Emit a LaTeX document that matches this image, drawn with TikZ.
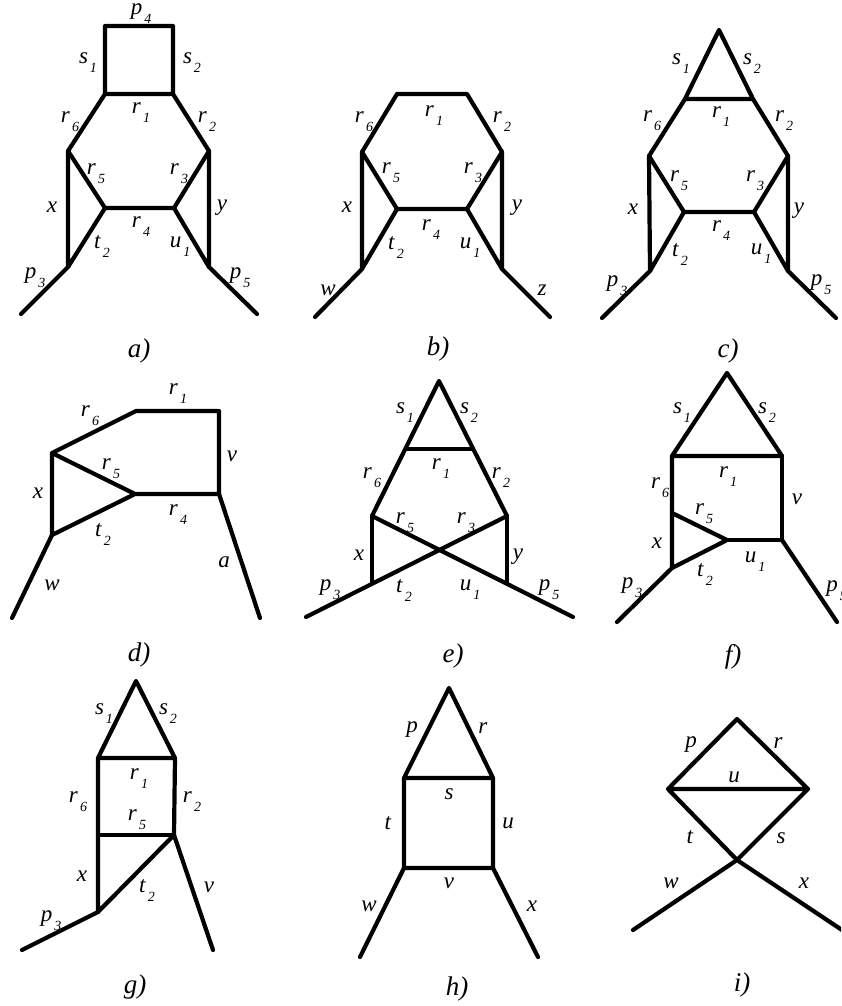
\documentclass[tikz,border=0pt]{standalone}
\usepackage{fontspec}
\setmainfont{Liberation Serif}
\newcommand{\lab}[2]{\textit{#1}\kern1pt\raisebox{-4.5pt}{\fontsize{7}{7}\selectfont\textit{#2}}}
\tikzset{
  el/.style={line width=2.1pt,line cap=round,line join=round},
  cim/.style={inner sep=0pt,font=\fontsize{11.5}{11.5}\selectfont},
  capt/.style={inner sep=0pt,font=\fontsize{13.5}{13.5}\selectfont\itshape},
}
\begin{document}
\begin{tikzpicture}[x=0.5pt,y=-0.5pt]
  \clip (0,0) rectangle (841,1006);
  % a)
  \coordinate (a1) at (105,26);  \coordinate (a2) at (173,26);
  \coordinate (a3) at (105,94);  \coordinate (a4) at (173,94);
  \coordinate (a5) at (68,151);  \coordinate (a6) at (209,151);
  \coordinate (a7) at (105,208); \coordinate (a8) at (174,208);
  \coordinate (a9) at (68,267);  \coordinate (a10) at (209,267);
  \coordinate (a11) at (21,314); \coordinate (a12) at (257,314);
  \draw[el] (a3) -- (a1) -- (a2) -- (a4) -- (a3) -- (a5) -- (a7) -- (a8) -- (a6) -- (a4);
  \draw[el] (a5) -- (a9) -- (a7);
  \draw[el] (a6) -- (a10) -- (a8);
  \draw[el] (a11) -- (a9);
  \draw[el] (a10) -- (a12);
  \node[cim] (ap4) at (141,14) {\lab{p}{4}};
  \node[cim] (as1) at (88,63) {\lab{s}{1}};
  \node[cim] (as2) at (192,63) {\lab{s}{2}};
  \node[cim] (ar1) at (141,113) {\lab{r}{1}};
  \node[cim] (ar6) at (70,122) {\lab{r}{6}};
  \node[cim] (ar2) at (207,122) {\lab{r}{2}};
  \node[cim] (ar5) at (96,174) {\lab{r}{5}};
  \node[cim] (ar3) at (179,174) {\lab{r}{3}};
  \node[cim] (ax) at (52,207) {\textit{x}};
  \node[cim] (ay) at (222,208) {\textit{y}};
  \node[cim] (ar4) at (141,227) {\lab{r}{4}};
  \node[cim] (at2) at (102,247) {\lab{t}{2}};
  \node[cim] (au1) at (180,247) {\lab{u}{1}};
  \node[cim] (ap3) at (35,278) {\lab{p}{3}};
  \node[cim] (ap5) at (240,278) {\lab{p}{5}};
  \node[capt] (acap) at (139,351) {a)};
  % b)
  \coordinate (b3) at (397,94);  \coordinate (b4) at (467,94);
  \coordinate (b5) at (362,152); \coordinate (b6) at (502,152);
  \coordinate (b7) at (397,209); \coordinate (b8) at (467,209);
  \coordinate (b9) at (362,269); \coordinate (b10) at (502,269);
  \coordinate (b11) at (315,317); \coordinate (b12) at (550,317);
  \draw[el] (b3) -- (b4) -- (b6) -- (b8) -- (b7) -- (b5) -- (b3);
  \draw[el] (b5) -- (b9) -- (b7);
  \draw[el] (b6) -- (b10) -- (b8);
  \draw[el] (b11) -- (b9);
  \draw[el] (b10) -- (b12);
  \node[cim] (br6) at (364,122) {\lab{r}{6}};
  \node[cim] (br1) at (434,116) {\lab{r}{1}};
  \node[cim] (br2) at (502,122) {\lab{r}{2}};
  \node[cim] (br5) at (391,173) {\lab{r}{5}};
  \node[cim] (br3) at (473,173) {\lab{r}{3}};
  \node[cim] (bx) at (347,207) {\textit{x}};
  \node[cim] (by) at (517,208) {\textit{y}};
  \node[cim] (br4) at (431,230) {\lab{r}{4}};
  \node[cim] (bt2) at (396,248) {\lab{t}{2}};
  \node[cim] (bu1) at (470,248) {\lab{u}{1}};
  \node[cim] (bw) at (328,290) {\textit{w}};
  \node[cim] (bz) at (542,290) {\textit{z}};
  \node[capt] (bcap) at (438,349) {b)};
  % c)
  \coordinate (c0) at (719,30);
  \coordinate (c3) at (685,99);  \coordinate (c4) at (753,99);
  \coordinate (c5) at (649,156); \coordinate (c6) at (788,156);
  \coordinate (c7) at (684,212); \coordinate (c8) at (754,212);
  \coordinate (c9) at (650,271); \coordinate (c10) at (788,271);
  \coordinate (c11) at (602,318); \coordinate (c12) at (836,318);
  \draw[el] (c3) -- (c0) -- (c4) -- (c3) -- (c5) -- (c7) -- (c8) -- (c6) -- (c4);
  \draw[el] (c5) -- (c9) -- (c7);
  \draw[el] (c6) -- (c10) -- (c8);
  \draw[el] (c11) -- (c9);
  \draw[el] (c10) -- (c12);
  \node[cim] (cs1) at (681,64) {\lab{s}{1}};
  \node[cim] (cs2) at (752,64) {\lab{s}{2}};
  \node[cim] (cr1) at (721,117) {\lab{r}{1}};
  \node[cim] (cr6) at (652,121) {\lab{r}{6}};
  \node[cim] (cr2) at (784,121) {\lab{r}{2}};
  \node[cim] (cr5) at (679,181) {\lab{r}{5}};
  \node[cim] (cr3) at (755,181) {\lab{r}{3}};
  \node[cim] (cx) at (633,209) {\textit{x}};
  \node[cim] (cy) at (799,211) {\textit{y}};
  \node[cim] (cr4) at (721,231) {\lab{r}{4}};
  \node[cim] (ct2) at (680,255) {\lab{t}{2}};
  \node[cim] (cu1) at (761,254) {\lab{u}{1}};
  \node[cim] (cp3) at (617,286) {\lab{p}{3}};
  \node[cim] (cp5) at (821,285) {\lab{p}{5}};
  \node[capt] (ccap) at (728,351) {c)};
  % d)
  \coordinate (d1) at (136,411); \coordinate (d2) at (219,411);
  \coordinate (d3) at (52,453);  \coordinate (d4) at (135,494);
  \coordinate (d5) at (219,494); \coordinate (d6) at (52,535);
  \coordinate (d7) at (12,618);  \coordinate (d8) at (260,618);
  \draw[el] (d3) -- (d1) -- (d2) -- (d5) -- (d4) -- (d3) -- (d6) -- (d4);
  \draw[el] (d7) -- (d6);
  \draw[el] (d5) -- (d8);
  \node[cim] (dr6) at (90,416) {\lab{r}{6}};
  \node[cim] (dr1) at (178,394) {\lab{r}{1}};
  \node[cim] (dv) at (232,456) {\textit{v}};
  \node[cim] (dr5) at (111,469) {\lab{r}{5}};
  \node[cim] (dx) at (38,493) {\textit{x}};
  \node[cim] (dr4) at (178,515) {\lab{r}{4}};
  \node[cim] (dt2) at (103,535) {\lab{t}{2}};
  \node[cim] (da) at (224,562) {\textit{a}};
  \node[cim] (dw) at (52,585) {\textit{w}};
  \node[capt] (dcap) at (139,655) {d)};
  % e)
  \coordinate (e0) at (439,381);
  \coordinate (e3) at (407,449); \coordinate (e4) at (472,449);
  \coordinate (e5) at (372,516); \coordinate (e6) at (507,516);
  \coordinate (e7) at (372,583); \coordinate (e8) at (507,583);
  \coordinate (e9) at (306,617); \coordinate (e10) at (573,617);
  \draw[el] (e5) -- (e0) -- (e6);
  \draw[el] (e3) -- (e4);
  \draw[el] (e5) -- (e7);
  \draw[el] (e6) -- (e8);
  \draw[el] (e5) -- (e10);
  \draw[el] (e6) -- (e9);
  \node[cim] (es1) at (405,413) {\lab{s}{1}};
  \node[cim] (es2) at (469,413) {\lab{s}{2}};
  \node[cim] (er1) at (441,469) {\lab{r}{1}};
  \node[cim] (er6) at (372,478) {\lab{r}{6}};
  \node[cim] (er2) at (501,478) {\lab{r}{2}};
  \node[cim] (er5) at (405,523) {\lab{r}{5}};
  \node[cim] (er3) at (466,523) {\lab{r}{3}};
  \node[cim] (ex) at (359,555) {\textit{x}};
  \node[cim] (ey) at (518,557) {\textit{y}};
  \node[cim] (et2) at (404,591) {\lab{t}{2}};
  \node[cim] (eu1) at (470,590) {\lab{u}{1}};
  \node[cim] (ep3) at (330,590) {\lab{p}{3}};
  \node[cim] (ep5) at (549,590) {\lab{p}{5}};
  \node[capt] (ecap) at (453,656) {e)};
  % f)
  \coordinate (f0) at (727,373);
  \coordinate (f3) at (672,456); \coordinate (f4) at (782,456);
  \coordinate (f5) at (672,513); \coordinate (f6) at (727,540);
  \coordinate (f7) at (782,540); \coordinate (f8) at (672,568);
  \coordinate (f9) at (617,622); \coordinate (f10) at (837,622);
  \draw[el] (f3) -- (f0) -- (f4) -- (f3) -- (f8) -- (f6) -- (f5);
  \draw[el] (f4) -- (f7) -- (f6);
  \draw[el] (f9) -- (f8);
  \draw[el] (f7) -- (f10);
  \node[cim] (fs1) at (682,413) {\lab{s}{1}};
  \node[cim] (fs2) at (767,413) {\lab{s}{2}};
  \node[cim] (fr1) at (728,477) {\lab{r}{1}};
  \node[cim] (fr6) at (660,488) {\lab{r}{6}};
  \node[cim] (fr5) at (704,514) {\lab{r}{5}};
  \node[cim] (fv) at (797,499) {\textit{v}};
  \node[cim] (fx) at (657,543) {\textit{x}};
  \node[cim] (fu1) at (755,562) {\lab{u}{1}};
  \node[cim] (ft2) at (705,575) {\lab{t}{2}};
  \node[cim] (fp3) at (632,588) {\lab{p}{3}};
  \node[cim,anchor=west] (fp5) at (826,591) {\lab{p}{5}};
  \node[capt] (fcap) at (733,657) {f)};
  % g)
  \coordinate (g0) at (136,681);
  \coordinate (g3) at (98,758);  \coordinate (g4) at (175,758);
  \coordinate (g5) at (98,835);  \coordinate (g6) at (174,835);
  \coordinate (g7) at (98,912);  \coordinate (g8) at (22,950);
  \coordinate (g9) at (213,950);
  \draw[el] (g3) -- (g0) -- (g4) -- (g3) -- (g7) -- (g6) -- (g4);
  \draw[el] (g5) -- (g6);
  \draw[el] (g8) -- (g7);
  \draw[el] (g6) -- (g9);
  \node[cim] (gs1) at (104,714) {\lab{s}{1}};
  \node[cim] (gs2) at (168,714) {\lab{s}{2}};
  \node[cim] (gr1) at (139,779) {\lab{r}{1}};
  \node[cim] (gr5) at (137,820) {\lab{r}{5}};
  \node[cim] (gr6) at (78,802) {\lab{r}{6}};
  \node[cim] (gr2) at (192,802) {\lab{r}{2}};
  \node[cim] (gx) at (82,876) {\textit{x}};
  \node[cim] (gt2) at (147,891) {\lab{t}{2}};
  \node[cim] (gv) at (209,887) {\textit{v}};
  \node[cim] (gp3) at (51,921) {\lab{p}{3}};
  \node[capt] (gcap) at (135,987) {g)};
  % h)
  \coordinate (h0) at (449,688);
  \coordinate (h3) at (404,778); \coordinate (h4) at (493,778);
  \coordinate (h5) at (404,868); \coordinate (h6) at (493,868);
  \coordinate (h7) at (360,957); \coordinate (h8) at (538,957);
  \draw[el] (h3) -- (h0) -- (h4) -- (h3) -- (h5) -- (h6) -- (h4);
  \draw[el] (h7) -- (h5);
  \draw[el] (h6) -- (h8);
  \node[cim] (hp) at (412,730) {\textit{p}};
  \node[cim] (hr) at (483,728) {\textit{r}};
  \node[cim] (hs) at (449,794) {\textit{s}};
  \node[cim] (ht) at (388,823) {\textit{t}};
  \node[cim] (hu) at (508,823) {\textit{u}};
  \node[cim] (hv) at (449,883) {\textit{v}};
  \node[cim] (hw) at (369,906) {\textit{w}};
  \node[cim] (hx) at (532,906) {\textit{x}};
  \node[capt] (hcap) at (457,989) {h)};
  % i)
  \coordinate (i0) at (737,719);
  \coordinate (i3) at (668,789); \coordinate (i4) at (808,789);
  \coordinate (i5) at (737,860);
  \coordinate (i6) at (633,930); \coordinate (i7) at (845,932);
  \draw[el] (i3) -- (i0) -- (i4) -- (i3) -- (i5) -- (i4);
  \draw[el] (i6) -- (i5) -- (i7);
  \node[cim] (ip) at (691,745) {\textit{p}};
  \node[cim] (ir) at (778,743) {\textit{r}};
  \node[cim] (iu) at (734,777) {\textit{u}};
  \node[cim] (it) at (690,837) {\textit{t}};
  \node[cim] (is) at (781,838) {\textit{s}};
  \node[cim] (iw) at (671,883) {\textit{w}};
  \node[cim] (ix) at (804,883) {\textit{x}};
  \node[capt] (icap) at (742,985) {i)};
\end{tikzpicture}
\end{document}
